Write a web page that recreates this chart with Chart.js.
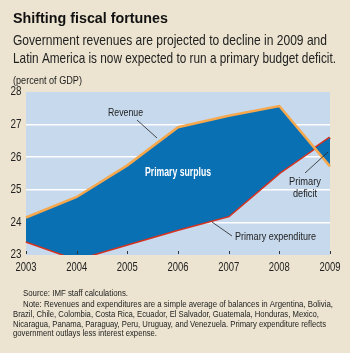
<!DOCTYPE html>
<html>
<head>
<meta charset="utf-8">
<script src="https://cdn.jsdelivr.net/npm/chart.js@4.4.1/dist/chart.umd.min.js"></script>
<style>
  html, body { margin: 0; padding: 0; background: #ece4d0; }
  #wrap { position: relative; width: 350px; height: 353px; }
</style>
</head>
<body>
<div id="wrap"><canvas id="fiscalChart" width="350" height="353"></canvas></div>
<script>
// data
var years = ['2003', '2004', '2005', '2006', '2007', '2008', '2009'];
var revenue = [24.15, 24.78, 25.75, 26.92, 27.27, 27.57, 25.72];
var primaryExpenditure = [23.42, 22.87, 23.33, 23.78, 24.2, 25.52, 26.6];
var yTicks = [23, 24, 25, 26, 27, 28];

var FONT = '"Liberation Sans Narrow", "Liberation Sans", Arial, sans-serif';
var fillBlue = '#0a70b4';
var inkColor = '#222';

// fillText squeezed to a width, since no narrow font is around
var squeeze = function(ctx, text, x, y, w) {
  var real = ctx.measureText(text).width;
  if (real > w) {
    ctx.fillText(text, x, y, w);
  } else {
    ctx.fillText(text, x, y);
  }
};

var textPlugin = {
  id: 'textPlugin',
  beforeDraw: function(chart) {
    var ctx = chart.ctx;
    var a = chart.chartArea;
    ctx.save();
    ctx.fillStyle = '#c6d9ed';
    ctx.fillRect(a.left, a.top, a.right - a.left, a.bottom - a.top);
    ctx.restore();
  },
  afterDatasetsDraw: function(chart) {
    var ctx = chart.ctx;
    var xs = chart.scales.x, ys = chart.scales.y;
    var a = chart.chartArea;
    ctx.save();
    // little tick marks along the bottom + axis labels
    ctx.strokeStyle = '#333';
    ctx.lineWidth = 1;
    ctx.fillStyle = inkColor;
    ctx.font = '12px ' + FONT;
    ctx.textBaseline = 'middle';
    ctx.textAlign = 'center';
    for (var i = 0; i < years.length; i++) {
      var px = Math.round(xs.getPixelForValue(i)) + 0.5;
      ctx.beginPath();
      ctx.moveTo(px, a.bottom - 4);
      ctx.lineTo(px, a.bottom - 1);
      ctx.stroke();
      squeeze(ctx, years[i], xs.getPixelForValue(i), 268, 21);
    }
    ctx.textAlign = 'right';
    yTicks.forEach(function(v) {
      squeeze(ctx, String(v), 21.5, ys.getPixelForValue(v), 11);
    });

    // annotations
    ctx.font = '11.5px ' + FONT;
    ctx.textAlign = 'center';
    squeeze(ctx, 'Revenue', 125.5, 113, 35);
    squeeze(ctx, 'Primary', 305, 182, 32);
    squeeze(ctx, 'deficit', 305, 194, 24);
    ctx.textAlign = 'left';
    squeeze(ctx, 'Primary expenditure', 235, 237, 81);

    ctx.strokeStyle = '#222';
    ctx.lineWidth = 0.8;
    ctx.beginPath();
    ctx.moveTo(137, 120); ctx.lineTo(157, 138);
    ctx.moveTo(305, 173); ctx.lineTo(328, 152);
    ctx.moveTo(212, 222); ctx.lineTo(232, 236);
    ctx.stroke();

    ctx.fillStyle = '#ffffff';
    ctx.font = 'bold 12px ' + FONT;
    ctx.textAlign = 'center';
    squeeze(ctx, 'Primary surplus', 178, 173, 66);

    // header
    ctx.fillStyle = '#111';
    ctx.textAlign = 'left';
    ctx.textBaseline = 'alphabetic';
    ctx.font = 'bold 15.5px ' + FONT;
    squeeze(ctx, 'Shifting fiscal fortunes', 13, 23, 155);
    ctx.font = '14.5px ' + FONT;
    ctx.fillStyle = inkColor;
    squeeze(ctx, 'Government revenues are projected to decline in 2009 and', 13, 45, 314);
    squeeze(ctx, 'Latin America is now expected to run a primary budget deficit.', 13, 63, 323);
    ctx.font = '10px ' + FONT;
    squeeze(ctx, '(percent of GDP)', 13, 84, 69);

    // footer
    ctx.font = '9.5px ' + FONT;
    squeeze(ctx, 'Source: IMF staff calculations.', 23, 296, 105);
    squeeze(ctx, 'Note: Revenues and expenditures are a simple average of balances in Argentina, Bolivia,', 23, 306.5, 310);
    squeeze(ctx, 'Brazil, Chile, Colombia, Costa Rica, Ecuador, El Salvador, Guatemala, Honduras, Mexico,', 13, 316.5, 306);
    squeeze(ctx, 'Nicaragua, Panama, Paraguay, Peru, Uruguay, and Venezuela. Primary expenditure reflects', 13, 326.5, 313);
    squeeze(ctx, 'government outlays less interest expense.', 13, 336, 144);
    ctx.restore();
  }
};

new Chart(document.getElementById('fiscalChart'), {
  type: 'line',
  data: {
    labels: years,
    datasets: [
      {
        label: 'Revenue',
        data: revenue,
        borderColor: '#f7a84c',
        borderWidth: 2.5,
        backgroundColor: fillBlue,
        fill: { target: '+1', above: fillBlue, below: fillBlue },
        pointRadius: 0,
        tension: 0
      },
      {
        label: 'Primary expenditure',
        data: primaryExpenditure,
        borderColor: '#d5321f',
        borderWidth: 3,
        fill: false,
        pointRadius: 0,
        tension: 0
      }
    ]
  },
  options: {
    responsive: false,
    animation: false,
    layout: { padding: { left: 0, right: 20, top: 92, bottom: 76 } },
    plugins: {
      legend: { display: false },
      tooltip: { enabled: false }
    },
    scales: {
      x: {
        offset: false,
        grid: { display: false, drawTicks: false },
        border: { display: false },
        ticks: { display: false },
        afterFit: function(s) { s.height = 22; }
      },
      y: {
        min: 23,
        max: 28,
        afterBuildTicks: function(s) { s.ticks = yTicks.map(function(v) { return { value: v }; }); },
        grid: {
          drawTicks: false,
          color: function(c) { return (c.tick && c.tick.value > 23 && c.tick.value < 28) ? '#ffffff' : 'rgba(0,0,0,0)'; },
          lineWidth: 1.5
        },
        border: { display: false },
        ticks: { display: false },
        afterFit: function(s) { s.width = 26; }
      }
    }
  },
  plugins: [textPlugin]
});
</script>
</body>
</html>
